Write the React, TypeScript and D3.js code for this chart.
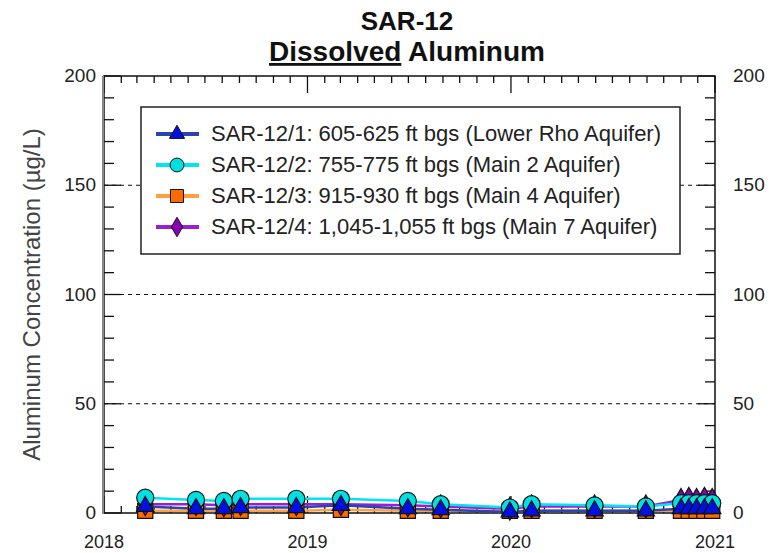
import * as d3 from "d3";
import { useEffect, useRef } from "react";

const sampleDates = [
    "2018-03-16", "2018-06-15", "2018-08-04", "2018-09-03", "2018-12-12",
    "2019-03-02", "2019-06-30", "2019-08-28", "2019-12-30", "2020-02-07",
    "2020-05-30", "2020-08-30", "2020-11-01", "2020-11-15", "2020-11-29",
    "2020-12-13", "2020-12-27",
];
const sar1Values = [3, 2, 2, 2.5, 2.5, 3.5, 2, 1.5, 0.5, 1, 1, 1, 2, 2, 2, 2, 2];
const sar2Values = [7, 6, 5.5, 6.5, 6.5, 6.5, 5.5, 4, 2.5, 4, 3.5, 3, 4.5, 4.5, 4.5, 4.5, 4.5];
const sar3Values = [1, 1, 1, 1, 1, 1.5, 1, 1, 1, 1, 1, 1, 1, 1, 1, 1, 1];
const sar4Values = [4, 4, 3.5, 4, 4, 4, 3.5, 3, 2, 3, 3, 3, 6, 6.5, 6, 6.5, 6];

const seriesNames = [
    "SAR-12/1: 605-625 ft bgs (Lower Rho Aquifer)",
    "SAR-12/2: 755-775 ft bgs (Main 2 Aquifer)",
    "SAR-12/3: 915-930 ft bgs (Main 4 Aquifer)",
    "SAR-12/4: 1,045-1,055 ft bgs (Main 7 Aquifer)",
];
const yTicks = [0, 50, 100, 150, 200];
const yearLabels = ["2018", "2019", "2020", "2021"];

const FONT = "'Liberation Sans', Arial, sans-serif";

export default function App() {
    const svgRef = useRef<SVGSVGElement>(null);
    const width = 774;
    const height = 553;
    const left = 104;
    const right = 715;
    const top = 76;
    const bottom = 513;

    useEffect(() => {
        if (svgRef.current) drawChart();
    }, []);

    const drawChart = () => {
        const svg = d3.select(svgRef.current);
        svg.selectAll("*").remove();

        const x = d3
            .scaleTime()
            .domain([new Date(2018, 0, 1), new Date(2021, 0, 1)])
            .range([left, right]);
        const y = d3.scaleLinear().domain([0, 200]).range([bottom, top]);

        // titles
        svg.append("text")
            .attr("x", 407).attr("y", 30)
            .attr("text-anchor", "middle")
            .attr("font-family", FONT).attr("font-weight", "bold").attr("font-size", 26)
            .attr("fill", "#111")
            .text("SAR-12");
        const t2 = svg.append("text")
            .attr("x", 407).attr("y", 61)
            .attr("text-anchor", "middle")
            .attr("font-family", FONT).attr("font-weight", "bold").attr("font-size", 28)
            .attr("fill", "#111");
        t2.append("tspan").attr("text-decoration", "underline").text("Dissolved");
        t2.append("tspan").text(" Aluminum");

        // y label
        svg.append("text")
            .attr("transform", `translate(40,${(top + bottom) / 2}) rotate(-90)`)
            .attr("text-anchor", "middle")
            .attr("font-family", FONT).attr("font-size", 24)
            .attr("fill", "#444")
            .text("Aluminum Concentration (µg/L)");

        const g = svg.append("g");

        // grid lines
        g.selectAll(".grid")
            .data([50, 100, 150])
            .join("line")
            .attr("x1", left).attr("x2", right)
            .attr("y1", (d) => y(d)).attr("y2", (d) => y(d))
            .attr("stroke", "#111").attr("stroke-width", 1.2)
            .attr("stroke-dasharray", "4,4");

        // y ticks
        const yMinor = d3.range(0, 201, 10);
        [
            { x0: left, dir: 1 },
            { x0: right, dir: -1 },
        ].forEach(({ x0, dir }) => {
            g.selectAll(null)
                .data(yMinor)
                .join("line")
                .attr("x1", x0)
                .attr("x2", (d) => x0 + dir * (d % 50 === 0 ? 17 : 10))
                .attr("y1", (d) => y(d)).attr("y2", (d) => y(d))
                .attr("stroke", "#111").attr("stroke-width", 1.3);
        });

        // x ticks
        const months = d3.timeMonth.range(new Date(2018, 0, 1), new Date(2021, 0, 2));
        [
            { y0: top, dir: 1 },
            { y0: bottom, dir: -1 },
        ].forEach(({ y0, dir }) => {
            g.selectAll(null)
                .data(months)
                .join("line")
                .attr("x1", (d) => x(d)).attr("x2", (d) => x(d))
                .attr("y1", y0)
                .attr("y2", (d) => y0 + dir * (d.getMonth() === 0 ? 17 : 7))
                .attr("stroke", "#111").attr("stroke-width", 1.3);
        });

        // frame
        g.append("rect")
            .attr("x", left).attr("y", top)
            .attr("width", right - left).attr("height", bottom - top)
            .attr("fill", "none").attr("stroke", "#111").attr("stroke-width", 1.5);
        g.append("line")
            .attr("x1", left - 1).attr("x2", left - 1)
            .attr("y1", top).attr("y2", bottom + 1)
            .attr("stroke", "#888").attr("stroke-width", 2);

        // tick labels
        g.selectAll(".yl")
            .data(yTicks)
            .join("text")
            .attr("x", left - 8).attr("y", (d) => y(d) + 6)
            .attr("text-anchor", "end")
            .attr("font-family", FONT).attr("font-size", 19).attr("fill", "#222")
            .text((d) => `${d}`);
        g.selectAll(".yr")
            .data(yTicks)
            .join("text")
            .attr("x", right + 18).attr("y", (d) => y(d) + 6)
            .attr("text-anchor", "start")
            .attr("font-family", FONT).attr("font-size", 19).attr("fill", "#222")
            .text((d) => `${d}`);
        g.selectAll(".xl")
            .data(yearLabels)
            .join("text")
            .attr("x", (d) => x(new Date(+d, 0, 1)))
            .attr("y", 548)
            .attr("text-anchor", "middle")
            .attr("font-family", FONT).attr("font-size", 18).attr("fill", "#222")
            .text((d) => d);

        const dates = sampleDates.map((d) => d3.timeParse("%Y-%m-%d")(d) as Date);

        const series = [
            { values: sar3Values, line: "#ffa040", fill: "#ff6a00", shape: d3.symbolSquare, size: 230 },
            { values: sar4Values, line: "#9b1fd1", fill: "#8a00b4", shape: d3.symbolDiamond, size: 150 },
            { values: sar2Values, line: "#00e5ee", fill: "#00e0e0", shape: d3.symbolCircle, size: 230 },
            { values: sar1Values, line: "#2b45b0", fill: "#0010e0", shape: d3.symbolTriangle, size: 130 },
        ];

        const lineGen = d3
            .line<number>()
            .x((d, i) => x(dates[i]))
            .y((d) => y(d));

        series.forEach((s) => {
            g.append("path")
                .datum(s.values)
                .attr("fill", "none")
                .attr("stroke", s.line)
                .attr("stroke-width", 2.5)
                .attr("d", lineGen);
        });
        series.forEach((s) => {
            g.selectAll(null)
                .data(s.values)
                .join("path")
                .attr("transform", (d, i) => `translate(${x(dates[i])},${y(d)})`)
                .attr("d", d3.symbol().type(s.shape).size(s.size)())
                .attr("fill", s.fill)
                .attr("stroke", "#111")
                .attr("stroke-width", 1.2);
        });

        // legend
        const lg = svg.append("g");
        lg.append("rect")
            .attr("x", 141).attr("y", 107)
            .attr("width", 539).attr("height", 147)
            .attr("fill", "white").attr("stroke", "#222").attr("stroke-width", 1.5);
        const legendItems = [series[3], series[2], series[0], series[1]];
        const legendSizes = [100, 150, 170, 110];
        legendItems.forEach((s, i) => {
            const cy = 134 + i * 31;
            lg.append("line")
                .attr("x1", 156).attr("x2", 199)
                .attr("y1", cy).attr("y2", cy)
                .attr("stroke", s.line).attr("stroke-width", 4);
            lg.append("path")
                .attr("transform", `translate(177,${cy})`)
                .attr("d", d3.symbol().type(s.shape).size(legendSizes[i])())
                .attr("fill", s.fill).attr("stroke", "#111").attr("stroke-width", 1);
            lg.append("text")
                .attr("x", 211).attr("y", cy + 7)
                .attr("font-family", FONT).attr("font-size", 22).attr("fill", "#222")
                .text(seriesNames[i]);
        });
    };

    return (
        <svg
            ref={svgRef}
            width={width}
            height={height}
            style={{ position: "absolute", left: 0, top: 0, background: "white" }}
        />
    );
}
